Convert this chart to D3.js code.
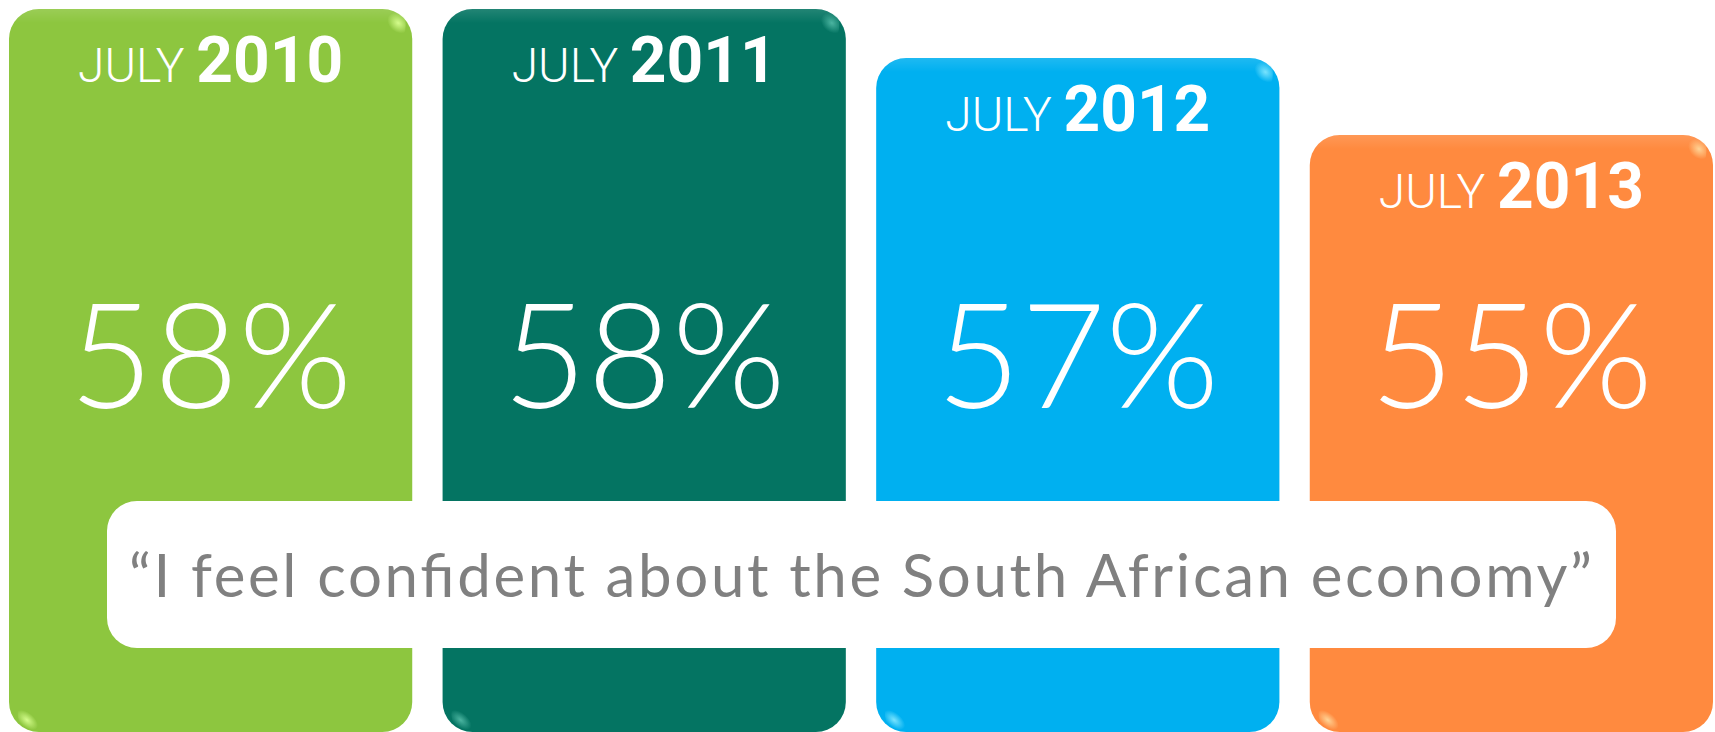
<!DOCTYPE html>
<html>
<head>
<meta charset="utf-8">
<script src="https://cdn.jsdelivr.net/npm/d3@7/dist/d3.min.js"></script>
<style>
  html, body { margin: 0; padding: 0; background: #ffffff; }
  svg { display: block; }
</style>
</head>
<body>
<svg id="chart" width="1715" height="732"></svg>
<script>
// Survey share answering "confident", by July of each year
const years = ["2010", "2011", "2012", "2013"];
const monthLabel = "JULY";
const values = [58, 58, 57, 55];
const colors = ["#8DC63F", "#047462", "#00B0F0", "#FF8A3F"];
const glints = ["#d8ff90", "#4fb8a4", "#7fe6ff", "#ffd79a"];
const quote = "\u201CI feel confident about the South African economy\u201D";

const W = 1715, H = 732;
const svg = d3.select("#chart");

const x = d3.scaleBand().domain(years).range([9, 1713]).paddingInner(0.07).paddingOuter(0);
// piecewise scale for the bar tops
const y = d3.scaleLinear().domain([55, 57, 58]).range([135, 58, 9]);
const bottom = H;
const r = 30;

const defs = svg.append("defs");
years.forEach((yr, i) => {
  const g = defs.append("radialGradient").attr("id", "glint" + i);
  g.append("stop").attr("offset", "0%").attr("stop-color", glints[i]).attr("stop-opacity", 0.95);
  g.append("stop").attr("offset", "100%").attr("stop-color", glints[i]).attr("stop-opacity", 0);
  const lg = defs.append("linearGradient").attr("id", "top" + i)
    .attr("x1", 0).attr("y1", 0).attr("x2", 0).attr("y2", 1);
  lg.append("stop").attr("offset", "0%").attr("stop-color", "#ffffff").attr("stop-opacity", 0.12);
  lg.append("stop").attr("offset", "100%").attr("stop-color", "#ffffff").attr("stop-opacity", 0);
  defs.append("clipPath").attr("id", "clip" + i)
    .append("rect")
    .attr("x", x(yr)).attr("y", y(values[i]))
    .attr("width", x.bandwidth()).attr("height", bottom - y(values[i]))
    .attr("rx", r).attr("ry", r);
});

const bars = svg.selectAll("g.bar").data(years).join("g").attr("class", "bar");

bars.append("rect")
  .attr("x", d => x(d))
  .attr("y", (d, i) => y(values[i]))
  .attr("width", x.bandwidth())
  .attr("height", (d, i) => bottom - y(values[i]))
  .attr("rx", r).attr("ry", r)
  .attr("fill", (d, i) => colors[i]);

// soft sheen along the top edge
bars.append("rect")
  .attr("clip-path", (d, i) => `url(#clip${i})`)
  .attr("x", d => x(d))
  .attr("y", (d, i) => y(values[i]))
  .attr("width", x.bandwidth())
  .attr("height", 14)
  .attr("fill", (d, i) => `url(#top${i})`);

// corner glints: top-right and bottom-left
bars.append("ellipse")
  .attr("clip-path", (d, i) => `url(#clip${i})`)
  .attr("cx", d => x(d) + x.bandwidth() - 14)
  .attr("cy", (d, i) => y(values[i]) + 14)
  .attr("rx", 12).attr("ry", 9)
  .attr("transform", (d, i) => `rotate(40 ${x(d) + x.bandwidth() - 14} ${y(values[i]) + 14})`)
  .attr("fill", (d, i) => `url(#glint${i})`);

bars.append("ellipse")
  .attr("clip-path", (d, i) => `url(#clip${i})`)
  .attr("cx", d => x(d) + 18)
  .attr("cy", bottom - 12)
  .attr("rx", 13).attr("ry", 7)
  .attr("transform", d => `rotate(40 ${x(d) + 18} ${bottom - 12})`)
  .attr("fill", (d, i) => `url(#glint${i})`);

// year headings
const head = bars.append("text")
  .attr("x", d => x(d) + x.bandwidth() / 2)
  .attr("y", (d, i) => y(values[i]) + 73)
  .attr("text-anchor", "middle")
  .attr("fill", "#ffffff")
  .attr("font-family", "Roboto, 'Open Sans', sans-serif");
head.append("tspan")
  .attr("font-size", 48).attr("font-weight", 300)
  .text(monthLabel + " ");
head.append("tspan")
  .attr("font-size", 64).attr("font-weight", 700)
  .text(d => d);

// value labels
bars.append("text")
  .attr("x", d => x(d) + x.bandwidth() / 2)
  .attr("y", 408)
  .attr("text-anchor", "middle")
  .attr("fill", "#ffffff")
  .attr("font-family", "Lato, 'Open Sans', sans-serif")
  .attr("font-weight", 300)
  .attr("font-size", 146)
  .text((d, i) => values[i] + "%");

// quote banner
svg.append("rect")
  .attr("x", 107).attr("y", 501)
  .attr("width", 1616 - 107).attr("height", 648 - 501)
  .attr("rx", 30).attr("ry", 30)
  .attr("fill", "#ffffff");

svg.append("text")
  .attr("x", 129)
  .attr("y", 597)
  .attr("fill", "#808080")
  .attr("font-family", "Lato, 'Open Sans', sans-serif")
  .attr("font-weight", 400)
  .attr("font-size", 60)
  .attr("textLength", 1463)
  .attr("lengthAdjust", "spacing")
  .text(quote);
</script>
</body>
</html>
